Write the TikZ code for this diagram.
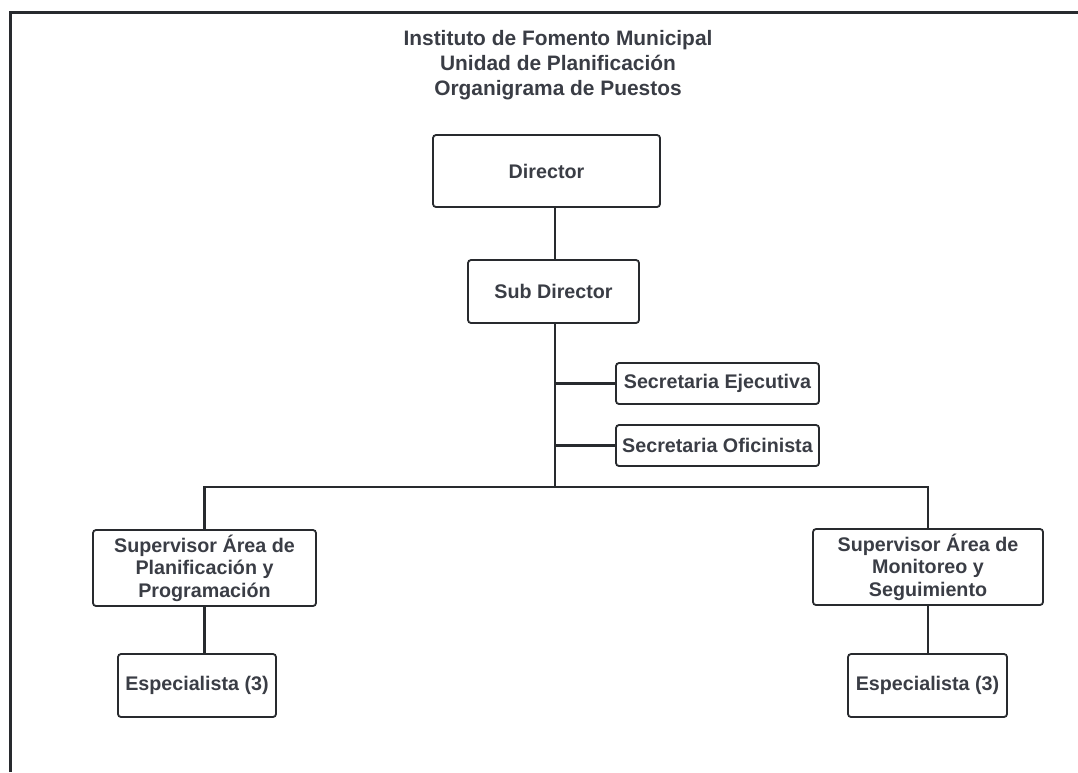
\documentclass[tikz,border=0pt]{standalone}
\usepackage{fontspec}
\setmainfont{Liberation Sans}
\usepackage{tikz}
\usetikzlibrary{positioning,calc}
\usepackage{xcolor}
\definecolor{cText}{RGB}{58,61,69}
\definecolor{cLine}{RGB}{40,42,46}

\begin{document}
\begin{tikzpicture}[x=1pt, y=-1pt,
  post/.style={draw=cLine, line width=1.8pt, rounded corners=3pt, inner sep=0pt,
    text=cText, align=center, font=\fontsize{19.7}{22.5}\selectfont\bfseries},
  link/.style={draw=cLine, line width=2.3pt}]
  \useasboundingbox (0,0) rectangle (1078,772);
  % frame
  \draw[cLine, line width=3pt] (10,772) -- (10,12) -- (1078,12);
  % title
  \node[text=cText, align=center, font=\fontsize{20.9}{25}\selectfont\bfseries] (title) at (558,65)
    {Instituto de Fomento Municipal\\Unidad de Planificación\\Organigrama de Puestos};
  % boxes
  \node[post, minimum width=227pt, minimum height=72pt] (dir) at (546.5,171) {Director};
  \node[post, minimum width=171pt, minimum height=63pt] (sub) at (553.5,291.5) {Sub Director};
  \node[post, minimum width=203pt, minimum height=41pt] (secE) at (717.5,383.5) {Secretaria Ejecutiva};
  \node[post, minimum width=203pt, minimum height=41pt] (secO) at (717.5,445.5) {Secretaria Oficinista};
  \node[post, minimum width=223pt, minimum height=76pt] (supL) at (204.5,568)
    {Supervisor Área de\\Planificación y\\Programación};
  \node[post, minimum width=230pt, minimum height=76pt] (supR) at (928,567)
    {Supervisor Área de\\Monitoreo y\\Seguimiento};
  \node[post, minimum width=158pt, minimum height=63pt] (espL) at (197,685.5) {Especialista (3)};
  \node[post, minimum width=159pt, minimum height=63pt] (espR) at (927.5,685.5) {Especialista (3)};
  % connectors
  \coordinate (bus) at (555,487);
  \draw[link] (sub.north -| bus) -- (dir.south -| bus);
  \draw[link] (sub.south -| bus) -- (bus);
  \draw[link] (secE.west) -- (secE.west -| bus);
  \draw[link] (secO.west) -- (secO.west -| bus);
  \draw[link] (supL.north) -- (supL.north |- bus) -- (supR.north |- bus) -- (supR.north);
  \draw[link] (supL.south) -- (supL.south |- espL.north);
  \draw[link] (supR.south) -- (supR.south |- espR.north);
\end{tikzpicture}
\end{document}
